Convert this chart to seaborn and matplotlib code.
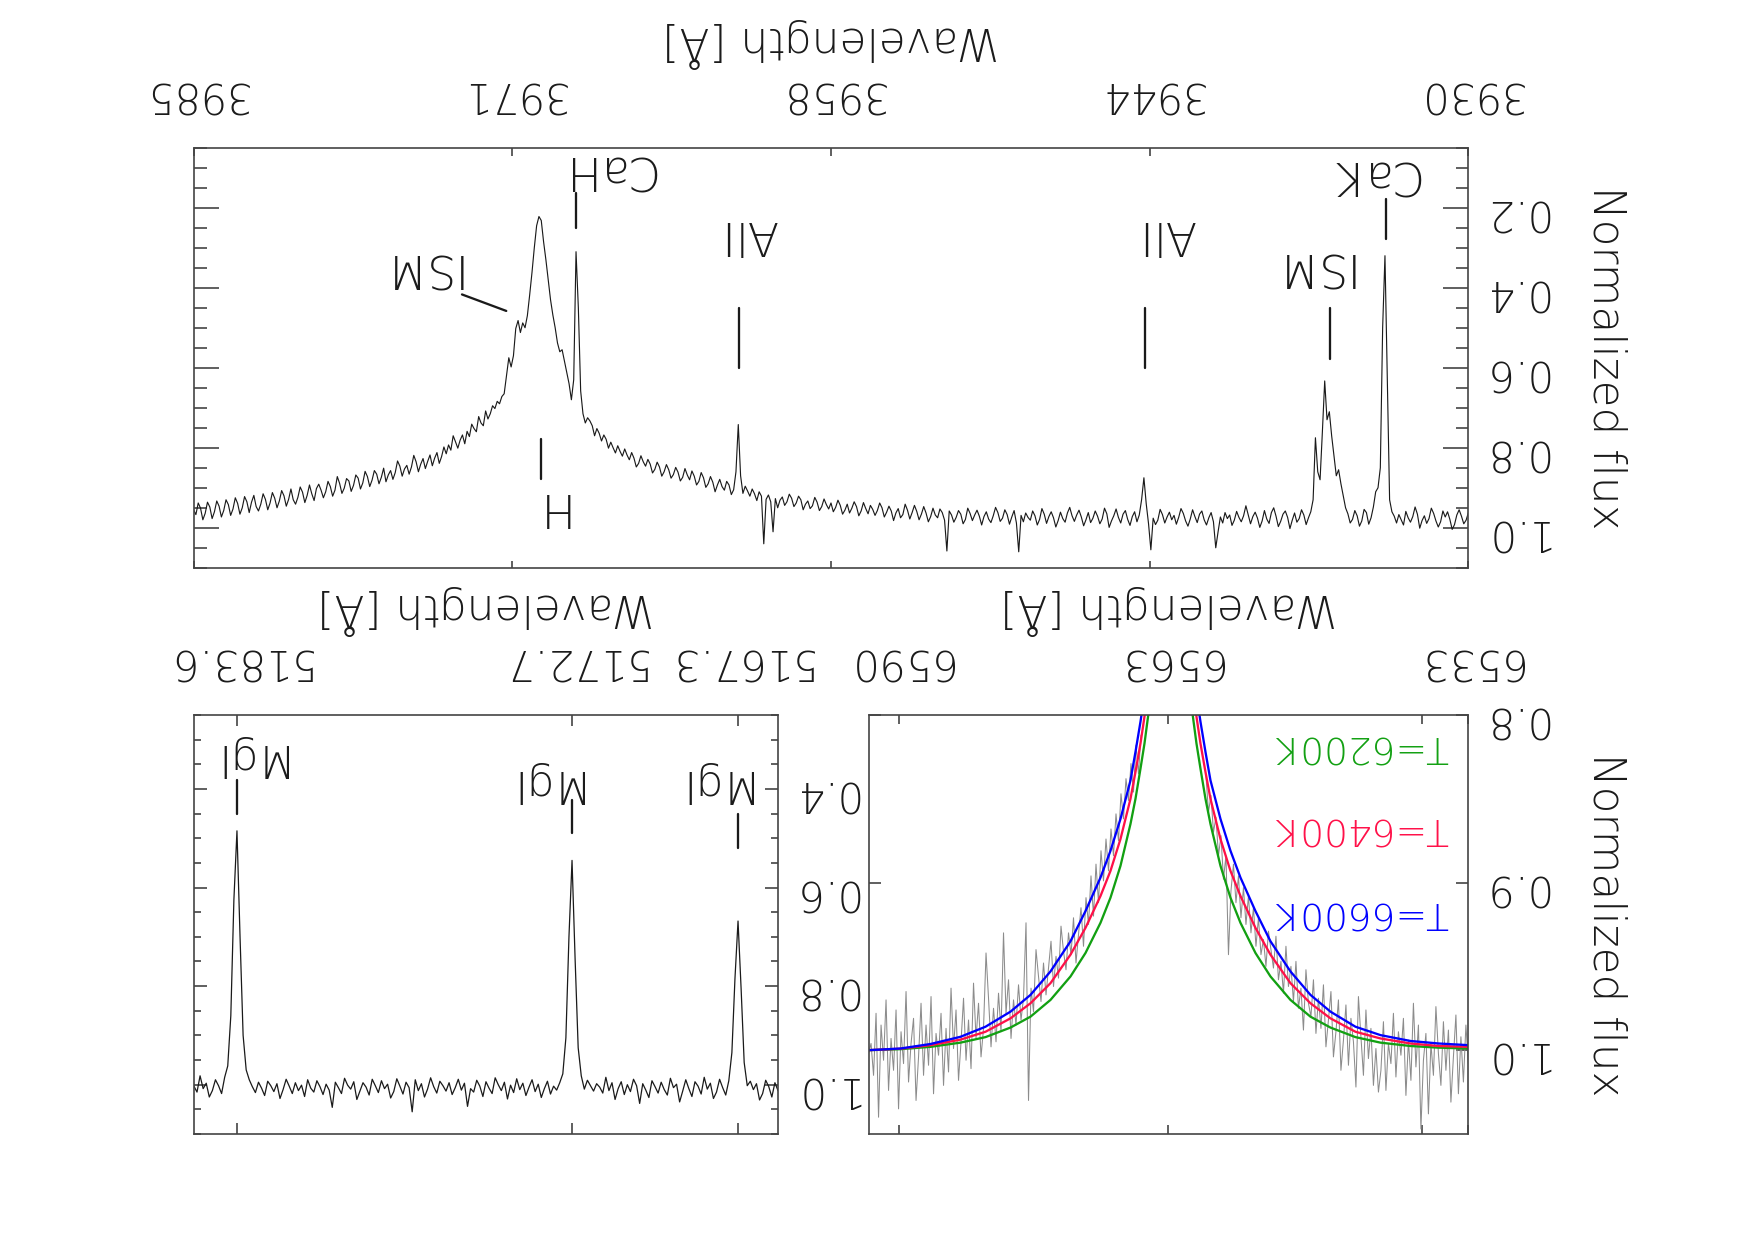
import numpy as np
import pandas as pd
import matplotlib.pyplot as plt
import seaborn as sns
from matplotlib.ticker import MultipleLocator, FixedLocator, NullLocator

sns.set_style("white")
plt.rcParams['font.family'] = ['DejaVu Sans']
plt.rcParams['font.weight'] = 'light'
plt.rcParams['axes.labelweight'] = 'light'

# Ca II H & K region, one value every 0.1 A starting at 3930 A
hk_start, hk_step = 3930.0, 0.1
hk_flux = [
    0.962, 0.981, 0.990, 0.971, 0.955, 0.968, 0.992, 1.004, 0.979, 0.960,
    0.973, 0.958, 0.985, 0.998, 0.983, 0.964, 0.951, 0.977, 0.989, 0.970,
    0.982, 1.001, 0.966, 0.948, 0.972, 0.986, 0.975, 0.959, 0.993, 0.980,
    0.967, 0.988, 0.971, 0.960, 0.930, 0.620, 0.320, 0.500, 0.850, 0.900,
    0.910, 0.948, 0.975, 0.991, 0.962, 0.954, 0.983, 0.996, 0.970, 0.957,
    0.979, 0.988, 0.965, 0.950, 0.920, 0.890, 0.855, 0.870, 0.820, 0.770,
    0.710, 0.730, 0.633, 0.760, 0.880, 0.860, 0.775, 0.930, 0.960, 0.975,
    0.992, 0.968, 0.955, 0.977, 0.986, 0.963, 0.981, 1.002, 0.974, 0.958,
    0.966, 0.984, 0.997, 0.971, 0.950, 0.962, 0.989, 0.978, 0.957, 0.983,
    0.999, 0.976, 0.961, 0.972, 0.990, 0.967, 0.945, 0.970, 0.985, 0.974,
    0.959, 0.981, 0.994, 0.968, 0.977, 0.962, 0.988, 0.973, 1.010, 1.050,
    0.985, 0.962, 0.975, 0.993, 0.980, 0.958, 0.966, 0.987, 0.972, 0.955,
    0.978, 0.996, 0.983, 0.964, 0.952, 0.974, 0.991, 0.969, 0.980, 0.961,
    0.973, 0.988, 0.967, 0.954, 0.981, 0.992, 0.976, 1.055, 0.990, 0.940,
    0.875, 0.930, 0.968, 0.985, 0.960, 0.972, 0.994, 0.979, 0.957, 0.966,
    0.988, 0.974, 0.953, 0.970, 0.983, 0.999, 0.965, 0.951, 0.978, 0.990,
    0.971, 0.958, 0.976, 0.987, 0.962, 0.980, 0.995, 0.973, 0.956, 0.968,
    0.984, 0.970, 0.949, 0.963, 0.986, 0.977, 0.961, 0.982, 0.998, 0.975,
    0.960, 0.972, 0.989, 0.966, 0.952, 0.979, 0.993, 0.970, 0.958, 0.981,
    0.974, 0.963, 0.985, 0.969, 1.060, 0.988, 0.957, 0.973, 0.991, 0.967,
    0.955, 0.976, 0.984, 0.962, 0.949, 0.970, 0.987, 0.978, 0.960, 0.972,
    0.993, 0.971, 0.956, 0.968, 0.982, 0.964, 0.951, 0.979, 0.990, 0.966,
    0.957, 0.974, 0.986, 0.968, 0.958, 1.058, 0.981, 0.962, 0.953, 0.975,
    0.968, 0.951, 0.972, 0.985, 0.963, 0.947, 0.966, 0.980, 0.959, 0.944,
    0.962, 0.978, 0.956, 0.941, 0.967, 0.975, 0.952, 0.963, 0.982, 0.958,
    0.946, 0.961, 0.973, 0.950, 0.938, 0.957, 0.969, 0.954, 0.944, 0.965,
    0.952, 0.937, 0.958, 0.970, 0.947, 0.935, 0.951, 0.963, 0.941, 0.956,
    0.966, 0.944, 0.931, 0.949, 0.960, 0.938, 0.953, 0.942, 0.928, 0.947,
    0.957, 0.936, 0.924, 0.945, 0.952, 0.933, 0.941, 0.955, 0.930, 0.921,
    0.938, 0.947, 0.926, 0.916, 0.935, 0.944, 0.923, 0.931, 0.950, 0.927,
    1.010, 0.935, 0.918, 0.929, 1.040, 0.921, 0.910, 0.932, 0.915, 0.903,
    0.921, 0.908, 0.896, 0.914, 0.870, 0.742, 0.860, 0.905, 0.917, 0.893,
    0.884, 0.906, 0.897, 0.879, 0.893, 0.910, 0.886, 0.872, 0.890, 0.899,
    0.875, 0.862, 0.884, 0.893, 0.871, 0.858, 0.880, 0.868, 0.852, 0.874,
    0.883, 0.861, 0.849, 0.867, 0.876, 0.855, 0.842, 0.860, 0.871, 0.848,
    0.836, 0.854, 0.863, 0.841, 0.829, 0.846, 0.835, 0.820, 0.839, 0.848,
    0.826, 0.812, 0.830, 0.818, 0.803, 0.821, 0.809, 0.795, 0.813, 0.800,
    0.786, 0.801, 0.779, 0.768, 0.783, 0.764, 0.752, 0.770, 0.745, 0.733,
    0.725, 0.738, 0.715, 0.658, 0.450, 0.310, 0.630, 0.680, 0.640, 0.612,
    0.585, 0.555, 0.560, 0.538, 0.500, 0.468, 0.430, 0.380, 0.330, 0.285,
    0.232, 0.222, 0.245, 0.300, 0.362, 0.418, 0.470, 0.500, 0.488, 0.512,
    0.482, 0.502, 0.570, 0.598, 0.575, 0.620, 0.665, 0.672, 0.690, 0.684,
    0.702, 0.695, 0.715, 0.728, 0.708, 0.745, 0.738, 0.722, 0.760, 0.752,
    0.741, 0.772, 0.759, 0.790, 0.768, 0.781, 0.801, 0.785, 0.770, 0.806,
    0.793, 0.815, 0.798, 0.822, 0.839, 0.812, 0.826, 0.845, 0.818, 0.834,
    0.852, 0.827, 0.841, 0.860, 0.835, 0.819, 0.848, 0.866, 0.844, 0.853,
    0.871, 0.846, 0.833, 0.862, 0.879, 0.857, 0.868, 0.885, 0.851, 0.874,
    0.890, 0.866, 0.857, 0.881, 0.897, 0.872, 0.859, 0.888, 0.903, 0.876,
    0.868, 0.894, 0.909, 0.883, 0.877, 0.901, 0.914, 0.889, 0.872, 0.906,
    0.921, 0.897, 0.884, 0.910, 0.925, 0.906, 0.891, 0.902, 0.932, 0.915,
    0.893, 0.919, 0.937, 0.911, 0.898, 0.924, 0.941, 0.930, 0.903, 0.929,
    0.946, 0.920, 0.907, 0.933, 0.950, 0.926, 0.912, 0.938, 0.955, 0.929,
    0.915, 0.941, 0.958, 0.947, 0.919, 0.936, 0.962, 0.935, 0.922, 0.950,
    0.966, 0.939, 0.925, 0.953, 0.969, 0.942, 0.930, 0.957, 0.973, 0.946,
    0.933, 0.960, 0.977, 0.948, 0.936, 0.964, 0.980, 0.951, 0.938, 0.967,
    0.955,
]

# Mg I b triplet, one value every 0.1 A starting at 5166 A
mg_start, mg_step = 5166.0, 0.1
mg_flux = [
    1.012, 0.996, 1.025, 1.004, 0.991, 1.018, 1.031, 0.998, 1.010, 0.993,
    1.002, 0.955, 0.805, 0.668, 0.785, 0.935, 0.992, 1.021, 1.006, 0.989,
    1.015, 1.028, 0.997, 1.009, 0.985, 1.019, 1.003, 0.994, 1.024, 1.008,
    0.990, 1.013, 1.035, 0.999, 1.006, 0.987, 1.021, 1.010, 0.995, 1.017,
    1.004, 0.992, 1.026, 1.011, 0.998, 1.038, 1.002, 0.989, 1.014, 1.000,
    1.020, 0.994, 1.008, 1.030, 0.996, 1.012, 0.985, 1.017, 1.005, 0.998,
    1.013, 1.002, 0.991, 1.009, 0.982, 0.925, 0.745, 0.545, 0.700, 0.905,
    0.978, 0.996, 1.011, 1.003, 1.019, 0.993, 1.008, 1.026, 0.999, 1.014,
    0.990, 1.005, 1.022, 0.997, 1.010, 0.988, 1.016, 1.001, 1.029, 0.995,
    1.012, 1.000, 0.986, 1.018, 1.007, 0.994, 1.024, 1.003, 0.991, 1.015,
    1.008, 1.044, 0.997, 1.011, 0.989, 1.006, 1.020, 0.996, 1.013, 1.002,
    0.993, 1.017, 1.004, 0.986, 1.009, 1.025, 0.998, 1.012, 0.990, 1.055,
    1.006, 0.995, 1.019, 1.003, 0.988, 1.014, 1.027, 0.999, 1.008, 0.992,
    1.016, 1.002, 0.989, 1.021, 1.005, 0.996, 1.013, 1.030, 0.994, 1.009,
    1.001, 0.987, 1.018, 1.006, 0.995, 1.046, 1.011, 0.999, 1.020, 1.004,
    0.992, 1.015, 1.007, 0.990, 1.024, 1.001, 1.012, 0.996, 1.018, 1.003,
    0.989, 1.010, 1.028, 0.998, 1.014, 1.002, 0.993, 1.022, 1.007, 0.995,
    1.016, 1.004, 0.990, 0.970, 0.900, 0.700, 0.485, 0.625, 0.860, 0.962,
    0.985, 1.018, 1.002, 0.990, 1.012, 1.025, 0.997, 1.008, 0.982, 1.015, 1.003,
]

# H alpha, one value every 0.25 A starting at 6533 A (line core not plotted)
ha_start, ha_step = 6533.0, 0.25
ha_flux = [
    1.008, 0.985, 1.019, 0.992, 1.026, 0.979, 1.004, 1.031, 0.988, 1.012,
    0.983, 1.021, 1.002, 0.974, 1.015, 0.996, 1.038, 0.990, 1.006, 1.047,
    0.985, 1.010, 0.972, 1.018, 0.994, 1.027, 0.981, 1.003, 0.989, 1.016,
    0.978, 1.008, 0.996, 1.024, 0.983, 1.012, 1.025, 0.999, 1.021, 0.987,
    1.005, 0.976, 1.015, 0.992, 0.968, 1.022, 0.995, 0.981, 1.009, 0.973,
    0.994, 1.012, 0.970, 0.989, 1.004, 0.965, 0.982, 0.998, 0.961, 0.987,
    0.969, 0.990, 0.958, 0.980, 0.972, 0.952, 0.988, 0.963, 0.975, 0.947,
    0.971, 0.950, 0.962, 0.938, 0.966, 0.947, 0.958, 0.932, 0.951, 0.940,
    0.929, 0.950, 0.934, 0.943, 0.921, 0.938, 0.915, 0.930, 0.908, 0.925,
    0.903, 0.921, 0.896, 0.912, 0.889, 0.905, 0.943, 0.884, 0.898, 0.872,
    0.884, 0.861, 0.870, 0.848, 0.858, 0.836,
] + [None] * 25 + [
    0.812, 0.835, 0.818, 0.846, 0.829, 0.851, 0.838, 0.862, 0.847,
    0.875, 0.859, 0.884, 0.868, 0.893, 0.874, 0.899, 0.881, 0.912, 0.889,
    0.920, 0.896, 0.925, 0.909, 0.938, 0.915, 0.931, 0.948, 0.921, 0.943,
    0.930, 0.952, 0.941, 0.926, 0.957, 0.944, 0.962, 0.935, 0.951, 0.967,
    0.948, 0.971, 0.956, 0.940, 0.977, 0.963, 1.030, 0.924, 0.969, 0.982,
    0.961, 0.985, 0.970, 0.993, 0.958, 0.978, 0.930, 0.989, 0.966, 0.995,
    0.975, 0.998, 0.969, 0.942, 0.987, 1.004, 0.972, 0.993, 0.960, 1.011,
    0.982, 1.006, 0.969, 0.995, 1.018, 0.976, 0.999, 0.963, 1.013, 0.987,
    1.021, 0.978, 1.003, 0.990, 1.026, 0.968, 1.009, 0.985, 1.015, 0.972,
    1.004, 1.030, 0.981, 0.996, 1.019, 0.965, 1.008, 0.989, 1.035, 0.976,
    1.012, 0.993, 1.024, 0.970, 1.006, 0.985, 1.040, 0.978, 1.015, 0.996, 1.002,
]

# synthetic H alpha profiles
model_wave = [6533.0, 6536.0, 6538.8, 6541.8, 6544.3, 6546.8, 6548.8, 6550.8, 6552.8,
              6554.3, 6555.8, 6556.8, 6557.8, 6558.8, 6559.3, 6559.8, 6560.2, 6560.6,
              6561.6, 6562.8, 6564.0, 6565.0, 6565.4, 6565.8, 6566.3, 6566.8, 6567.8,
              6568.8, 6569.8, 6571.3, 6572.8, 6574.8, 6576.8, 6578.8, 6581.3, 6583.8,
              6586.8, 6589.8, 6593.0]
model_6200 = [0.999, 0.9985, 0.9975, 0.9955, 0.9922, 0.9865, 0.980, 0.970, 0.956,
              0.942, 0.924, 0.909, 0.890, 0.865, 0.850, 0.832, 0.817, 0.799,
              0.74, 0.59, 0.74, 0.799, 0.817, 0.832, 0.850, 0.865, 0.890,
              0.909, 0.924, 0.942, 0.956, 0.970, 0.980, 0.9865, 0.9922, 0.9955,
              0.998, 0.9994, 1.0]
model_6400 = [0.998, 0.9975, 0.996, 0.993, 0.989, 0.981, 0.972, 0.960, 0.943,
              0.927, 0.908, 0.893, 0.874, 0.850, 0.834, 0.817, 0.801, 0.782,
              0.72, 0.57, 0.72, 0.782, 0.801, 0.817, 0.834, 0.850, 0.874,
              0.893, 0.908, 0.927, 0.943, 0.960, 0.972, 0.981, 0.989, 0.9937,
              0.997, 0.9991, 1.0]
model_6600 = [0.997, 0.996, 0.9945, 0.991, 0.986, 0.977, 0.967, 0.953, 0.935,
              0.917, 0.897, 0.881, 0.862, 0.839, 0.822, 0.804, 0.788, 0.765,
              0.70, 0.55, 0.70, 0.765, 0.788, 0.804, 0.822, 0.839, 0.862,
              0.881, 0.897, 0.917, 0.935, 0.953, 0.967, 0.977, 0.986, 0.992,
              0.9963, 0.999, 1.0]
model_names = ['T=6200K', 'T=6400K', 'T=6600K']
model_colors = ['#12a012', '#ff1048', '#0000ff']

assert len(hk_flux) == 551 and len(mg_flux) == 191 and len(ha_flux) == 241

df_hk = pd.DataFrame({'wave': hk_start + hk_step * np.arange(len(hk_flux)), 'flux': hk_flux})
df_mg = pd.DataFrame({'wave': mg_start + mg_step * np.arange(len(mg_flux)), 'flux': mg_flux})
df_ha = pd.DataFrame({'wave': ha_start + ha_step * np.arange(len(ha_flux)),
                      'flux': pd.to_numeric(pd.Series(ha_flux), errors='coerce')}).dropna()
df_ha['wing'] = np.where(df_ha['wave'] < 6562.8, 'blue', 'red')
df_mod = pd.DataFrame({'wave': model_wave * 3,
                       'flux': model_6200 + model_6400 + model_6600,
                       'model': np.repeat(model_names, len(model_wave))})

ink = '#1a1a1a'
axc = '#444444'

fig = plt.figure(figsize=(11.7, 1240 / 150), dpi=150)
ax_hk = fig.add_axes([0.1103, 0.5421, 0.7264, 0.3388])
ax_mg = fig.add_axes([0.1105, 0.0855, 0.3328, 0.3379])
ax_ha = fig.add_axes([0.4949, 0.0855, 0.3418, 0.3379])

sns.lineplot(data=df_hk, x='wave', y='flux', color=ink, lw=0.55, estimator=None, sort=False, ax=ax_hk)
sns.lineplot(data=df_mg, x='wave', y='flux', color=ink, lw=0.6, estimator=None, sort=False, ax=ax_mg)
sns.lineplot(data=df_ha, x='wave', y='flux', units='wing', color='#8c8c8c', lw=0.5,
             estimator=None, sort=False, ax=ax_ha)
sns.lineplot(data=df_mod, x='wave', y='flux', hue='model', hue_order=model_names,
             palette=dict(zip(model_names, model_colors)), lw=1.1,
             estimator=None, sort=False, legend=False, ax=ax_ha)


def idl_frame(ax, xlim, ylim, xticks, xlabels, yticks, ymin, xlen, ylen, ylen_minor):
    # whole page is upside down: axes run backwards, labels sit top/right
    ax.set_xlim(xlim[1], xlim[0])
    ax.set_ylim(ylim[1], ylim[0])
    ax.set_xticks(xticks, labels=xlabels)
    ax.set_yticks(yticks)
    ax.xaxis.set_minor_locator(NullLocator())
    ax.yaxis.set_minor_locator(MultipleLocator(ymin) if ymin else NullLocator())
    for s in ax.spines.values():
        s.set_color(axc)
        s.set_linewidth(0.8)
    ax.tick_params(which='both', direction='in', top=True, bottom=True, left=True, right=True,
                   labeltop=True, labelbottom=False, labelleft=False, labelright=True,
                   color=axc, width=0.8, labelcolor=ink, labelsize=20, labelrotation=180)
    ax.tick_params(axis='x', which='both', length=xlen, pad=16)
    ax.tick_params(axis='y', which='major', length=ylen, pad=6)
    ax.tick_params(axis='y', which='minor', length=ylen_minor)
    ax.xaxis.set_label_position('top')
    ax.set_xlabel('Wavelength [Å]', fontsize=21, rotation=180, color=ink, labelpad=7,
                  fontweight='light')
    ax.set_ylabel('')


idl_frame(ax_hk, (3930, 3985), (0.05, 1.1), [3930, 3943.75, 3957.5, 3971.25, 3985],
          ['3930', '3944', '3958', '3971', '3985'], [0.2, 0.4, 0.6, 0.8, 1.0], 0.05, 3.6, 12, 6)
idl_frame(ax_mg, (5166, 5185), (0.25, 1.1), [5167.3, 5172.7, 5183.6],
          ['5167.3', '5172.7', '5183.6'], [0.4, 0.6, 0.8, 1.0], 0.05, 5.3, 6.2, 3.4)
idl_frame(ax_ha, (6533, 6593), (0.8, 1.05), [6533, 6563, 6590],
          ['6533', '6563', '6590'], [0.8, 0.9, 1.0], None, 4.3, 5.8, 0)
ax_ha.xaxis.set_minor_locator(FixedLocator([6537.6]))

for ax in (ax_hk, ax_ha):
    ax.yaxis.set_label_position('right')
    ax.set_ylabel('Normalized flux', fontsize=21, rotation=270, va='bottom', color=ink,
                  labelpad=18, fontweight='light')

# line identifications (text, x, y) and marker bars (x, y0, y1)
hk_labels = [('CaK', 3934.13, 0.115), ('ISM', 3936.84, 0.344), ('AlI', 3943.06, 0.265),
             ('AlI', 3961.08, 0.265), ('CaH', 3967.18, 0.103), ('ISM', 3975.35, 0.346),
             ('H', 3969.72, 0.946)]
hk_bars = [(3933.56, 0.179, 0.279), (3935.96, 0.45, 0.579), (3943.96, 0.45, 0.60),
           (3961.48, 0.45, 0.60), (3968.49, 0.1625, 0.25), (3970.0, 0.779, 0.879)]
for txt, x, y in hk_labels:
    ax_hk.text(x, y, txt, rotation=180, ha='center', va='center', fontsize=22, color=ink)
for x, y0, y1 in hk_bars:
    ax_hk.plot([x, x], [y0, y1], color=ink, lw=1.1)
ax_hk.plot([3973.42, 3971.51], [0.4168, 0.458], color=ink, lw=1.1)

mg_labels = [('MgI', 5183.38, 0.335), ('MgI', 5173.76, 0.387), ('MgI', 5168.25, 0.387)]
mg_bars = [(5183.6, 0.382, 0.451), (5172.7, 0.422, 0.490), (5167.3, 0.45, 0.519)]
for txt, x, y in mg_labels:
    ax_mg.text(x, y, txt, rotation=180, ha='center', va='center', fontsize=21, color=ink)
for x, y0, y1 in mg_bars:
    ax_mg.plot([x, x], [y0, y1], color=ink, lw=1.1)

for name, col, y in zip(model_names, model_colors, [0.8184, 0.8673, 0.9176]):
    ax_ha.text(6543.7, y, name, rotation=180, ha='center', va='center', fontsize=18, color=col)

fig.savefig('out.png', dpi=150)
